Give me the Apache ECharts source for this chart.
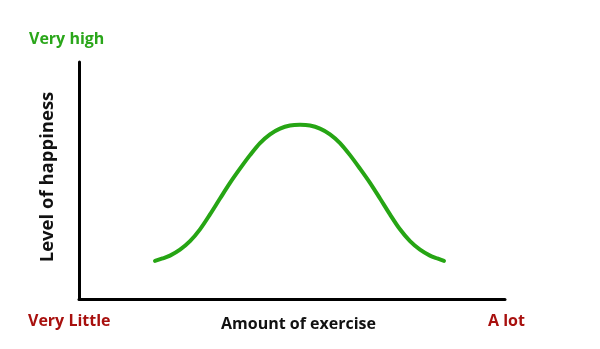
<!DOCTYPE html>
<html>
<head>
<meta charset="utf-8">
<script src="https://cdn.jsdelivr.net/npm/echarts@6/dist/echarts.min.js"></script>
<style>html,body{margin:0;padding:0;background:#fff}#c{width:600px;height:349px}</style>
</head>
<body>
<div id="c"></div>
<script>
// Amount of exercise (0-100 scale) and level of happiness (0-100 scale)
const exercise = [17.84, 19.60, 21.36, 23.71, 26.06, 28.40, 30.75, 33.10, 35.45, 37.79, 40.14, 42.49, 44.84, 47.18, 49.53, 51.88,
                  54.23, 56.57, 58.92, 61.27, 63.62, 65.96, 68.31, 70.66, 73.00, 75.35, 77.70, 80.05, 82.39, 84.10, 85.68];
const happiness = [16.1, 17.1, 18.3, 20.8, 24.4, 29.4, 35.7, 42.4, 49.0, 55.0, 60.7, 65.8, 69.5, 71.9, 73.2, 73.5,
                   73.2, 71.9, 69.5, 65.8, 60.7, 55.0, 49.0, 42.4, 35.7, 29.4, 24.4, 20.8, 18.3, 17.1, 16.1];
const xLabel = 'Amount of exercise';
const yLabel = 'Level of happiness';
const xLow = 'Very Little', xHigh = 'A lot', yHigh = 'Very high';

const font = '"Open Sans", "Noto Sans", sans-serif';
const chart = echarts.init(document.getElementById('c'), null, {renderer: 'canvas'});
chart.setOption({
  animation: false,
  backgroundColor: '#ffffff',
  grid: {left: 79, right: 95, top: 62, bottom: 50},
  xAxis: {
    type: 'value', min: 0, max: 100,
    axisLine: {show: true, lineStyle: {color: '#000', width: 3}},
    axisTick: {show: false}, axisLabel: {show: false}, splitLine: {show: false}
  },
  yAxis: {
    type: 'value', min: 0, max: 100,
    axisLine: {show: true, lineStyle: {color: '#000', width: 3}},
    axisTick: {show: false}, axisLabel: {show: false}, splitLine: {show: false}
  },
  graphic: [
    {type: 'text', left: 29, top: 31, style: {text: yHigh, font: 'bold 16px ' + font, fill: '#2aa61a'}},
    {type: 'text', left: 28, top: 313, style: {text: xLow, font: 'bold 16px ' + font, fill: '#a8100e'}},
    {type: 'text', left: 488, top: 313, style: {text: xHigh, font: 'bold 16px ' + font, fill: '#a8100e'}},
    {type: 'text', left: 221, top: 316, style: {text: xLabel, font: 'bold 16px ' + font, fill: '#111'}},
    {type: 'text', x: 48, y: 177, rotation: Math.PI / 2,
     style: {text: yLabel, font: 'bold 18.5px ' + font, fill: '#111', align: 'center', verticalAlign: 'middle'}}
  ],
  series: [{
    type: 'line',
    data: exercise.map((x, i) => [x, happiness[i]]),
    smooth: 0.3,
    showSymbol: false,
    lineStyle: {color: '#26a514', width: 4, cap: 'round'}
  }]
});
</script>
</body>
</html>
